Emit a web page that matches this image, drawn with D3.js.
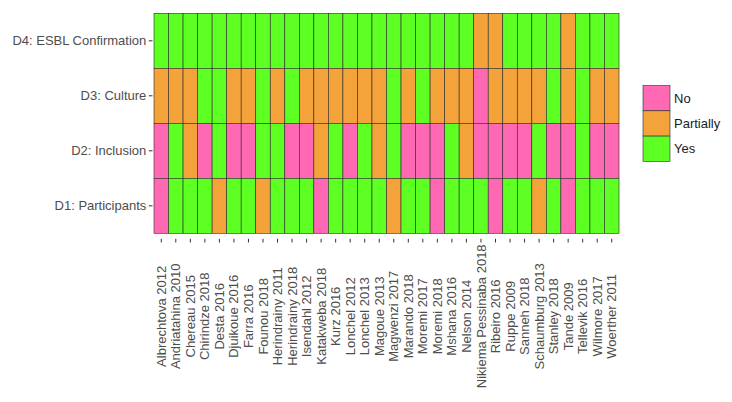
<!DOCTYPE html>
<html>
<head>
<meta charset="utf-8">
<script src="https://d3js.org/d3.v7.min.js"></script>
<style>
  body { margin: 0; background: #fff; }
  svg text { font-family: "Liberation Sans", Arial, sans-serif; }
</style>
</head>
<body>
<div id="chart"></div>
<script>
var width = 732,
    height = 402;

// studies along the x axis
var studies = [
    "Albrechtova 2012", "Andriatahina 2010", "Chereau 2015", "Chirindze 2018",
    "Desta 2016", "Djuikoue 2016", "Farra 2016", "Founou 2018",
    "Herindrainy 2011", "Herindrainy 2018", "Isendahl 2012", "Katakweba 2018",
    "Kurz 2016", "Lonchel 2012", "Lonchel 2013", "Magoue 2013",
    "Magwenzi 2017", "Marando 2018", "Moremi 2017", "Moremi 2018",
    "Mshana 2016", "Nelson 2014", "Nikiema Pessinaba 2018", "Ribeiro 2016",
    "Ruppe 2009", "Sanneh 2018", "Schaumburg 2013", "Stanley 2018",
    "Tande 2009", "Tellevik 2016", "Wilmore 2017", "Woerther 2011"
];

// domains, top to bottom
var domains = ["D4: ESBL Confirmation", "D3: Culture", "D2: Inclusion", "D1: Participants"];

var levels = ["No", "Partially", "Yes"];

// N = No, P = Partially, Y = Yes (one letter per study)
var participants = "NYYYPYYPYYYNYYYYPYYNYYYNYYPYNYYY".split("");
var inclusion    = "NYPNYNNYYNNPYNYPYNNNYPNNNNYNNYNN".split("");
var culture      = "PPPYYPPYPYPPPPPPYPYPPPNPPPPYPYPP".split("");
var esbl         = "YYYYYYYYYYYYYYYYYYYYYYPPYYYYPYYY".split("");

var codeToLevel = { N: "No", P: "Partially", Y: "Yes" };

var ratings = {
    "D1: Participants": participants,
    "D2: Inclusion": inclusion,
    "D3: Culture": culture,
    "D4: ESBL Confirmation": esbl
};

var cells = [];
domains.forEach(function (dom) {
    ratings[dom].forEach(function (c, i) {
        cells.push({ study: studies[i], domain: dom, level: codeToLevel[c] });
    });
});

var x = d3.scaleBand().domain(studies).range([154, 619]);
var y = d3.scaleBand().domain(domains).range([13.3, 233.3]);

var color = d3.scaleOrdinal()
    .domain(levels)
    .range(["#ff69b4", "#f4a23a", "#5eff22"]);

var svg = d3.select("#chart").append("svg")
    .attr("width", width)
    .attr("height", height);

svg.selectAll(".cell")
    .data(cells)
    .enter().append("rect")
    .attr("class", "cell")
    .attr("x", function (d) { return x(d.study); })
    .attr("y", function (d) { return y(d.domain); })
    .attr("width", x.bandwidth())
    .attr("height", y.bandwidth())
    .attr("fill", function (d) { return color(d.level); })
    .attr("stroke", "#2b2b2b")
    .attr("stroke-width", 0.6);

// axes sit a little outside the tiles (discrete expansion)
var xAxis = d3.axisBottom(x).tickSizeInner(3.7).tickSizeOuter(0).tickPadding(0);
var yAxis = d3.axisLeft(y).tickSizeInner(3.7).tickSizeOuter(0).tickPadding(2.5);

var gx = svg.append("g")
    .attr("transform", "translate(0,238.8)")
    .call(xAxis);
gx.select(".domain").remove();
gx.selectAll("line").attr("stroke", "#333").attr("stroke-width", 1);
gx.selectAll("text")
    .attr("x", 0)
    .attr("y", 0)
    .attr("dy", "0.35em")
    .attr("transform", "translate(0,77.5) rotate(-90)")
    .attr("text-anchor", "middle")
    .attr("fill", "#4d4d4d")
    .style("font-size", "13px");

var gy = svg.append("g")
    .attr("transform", "translate(152.5,0)")
    .call(yAxis);
gy.select(".domain").remove();
gy.selectAll("line").attr("stroke", "#333").attr("stroke-width", 1);
gy.selectAll("text")
    .attr("fill", "#4d4d4d")
    .style("font-size", "13px");

// legend
var legend = svg.append("g").attr("transform", "translate(643,85.5)");
var key = legend.selectAll(".key")
    .data(levels)
    .enter().append("g")
    .attr("class", "key")
    .attr("transform", function (d, i) { return "translate(0," + (i * 25.3) + ")"; });

key.append("rect")
    .attr("width", 27)
    .attr("height", 25.3)
    .attr("fill", function (d) { return color(d); })
    .attr("stroke", "#2b2b2b")
    .attr("stroke-width", 0.6);

key.append("text")
    .attr("x", 31)
    .attr("y", 12.6)
    .attr("dy", "0.35em")
    .attr("fill", "#1a1a1a")
    .style("font-size", "13px")
    .text(function (d) { return d; });
</script>
</body>
</html>
